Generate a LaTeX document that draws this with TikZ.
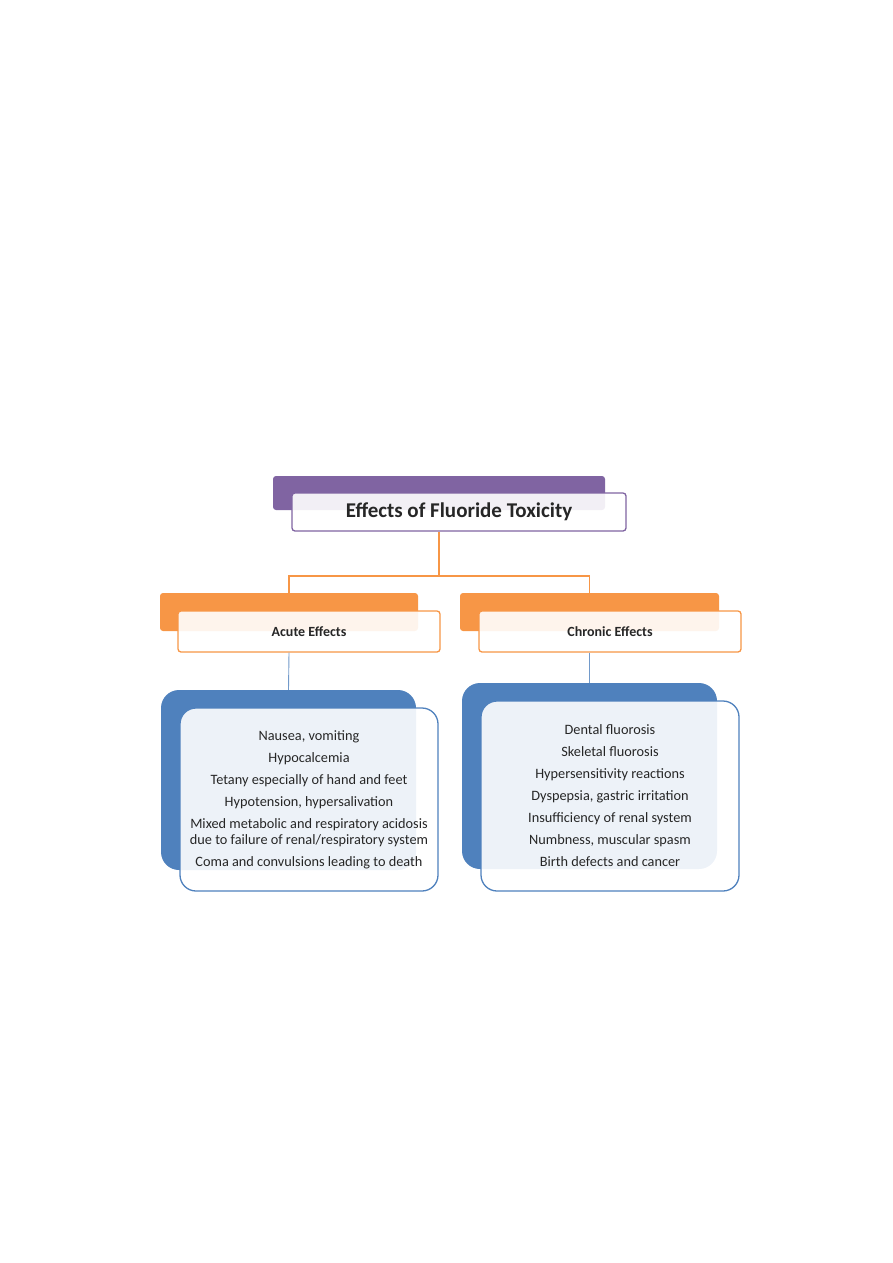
\documentclass[tikz,border=0pt]{standalone}
\usepackage{fontspec}
\setmainfont{Carlito}
\usepackage{xcolor}
\usepackage{tikz}
\usetikzlibrary{positioning,backgrounds}

\definecolor{fpurple}{HTML}{8064A2}
\definecolor{forange}{HTML}{F79646}
\definecolor{fblue}{HTML}{4F81BD}
\definecolor{ftext}{HTML}{262626}

\begin{document}
\begin{tikzpicture}[
  x=1pt, y=-1pt,
  backbox/.style={rounded corners=#1, inner sep=0pt},
  frontbox/.style={draw=#1, line width=1.3pt, fill=white, fill opacity=0.9, text opacity=1, inner sep=0pt, align=center, text=ftext},
  headtext/.style={font=\fontsize{14}{16}\selectfont\bfseries},
  listtext/.style={font=\fontsize{14.3}{16}\selectfont},
  link/.style={draw=#1, line width=1.2pt},
]
\useasboundingbox (0,0) rectangle (893,1263);

%% ---- Title ----
\node[backbox=3pt, fill=fpurple, minimum width=332pt, minimum height=34pt] (titleback) at (439,493) {};
\node[frontbox=fpurple, rounded corners=3pt, minimum width=334pt, minimum height=38pt,
      font=\fontsize{21}{24}\selectfont\bfseries] (title) at (459,512) {Effects of Fluoride Toxicity};

%% ---- Acute / Chronic headers ----
\node[backbox=3pt, fill=forange, minimum width=258pt, minimum height=38pt] (acuteback) at (289,612) {};
\node[frontbox=forange, rounded corners=3pt, minimum width=262pt, minimum height=41pt, headtext] (acute) at (309,631.5) {Acute Effects};

\node[backbox=3pt, fill=forange, minimum width=259pt, minimum height=38pt] (chronicback) at (589.5,612) {};
\node[frontbox=forange, rounded corners=3pt, minimum width=262pt, minimum height=41pt, headtext] (chronic) at (610,631.5) {Chronic Effects};

%% ---- Lists ----
\node[backbox=18pt, fill=fblue, minimum width=255pt, minimum height=180pt] (acutelistback) at (288.5,780) {};
\node[frontbox=fblue, rounded corners=16pt, minimum width=258pt, minimum height=183pt, listtext] (acutelist) at (309,799.5) {%
Nausea, vomiting\\[6pt]
Hypocalcemia\\[6pt]
Tetany especially of hand and feet\\[6pt]
Hypotension, hypersalivation\\[6pt]
Mixed metabolic and respiratory acidosis\\
due to failure of renal/respiratory system\\[6pt]
Coma and convulsions leading to death};

\node[backbox=18pt, fill=fblue, minimum width=255pt, minimum height=186pt] (chroniclistback) at (589.5,776) {};
\node[frontbox=fblue, rounded corners=16pt, minimum width=258pt, minimum height=190pt, listtext] (chroniclist) at (610,796) {%
Dental fluorosis\\[6pt]
Skeletal fluorosis\\[6pt]
Hypersensitivity reactions\\[6pt]
Dyspepsia, gastric irritation\\[6pt]
Insufficiency of renal system\\[6pt]
Numbness, muscular spasm\\[6pt]
Birth defects and cancer};

%% ---- Connectors ----
\coordinate (split) at (439,576);
\draw[link=forange] (titleback.center |- title.south) -- (split) -| (acuteback.north);
\draw[link=forange] (split) -| (chronicback.north);
\draw[link=fblue!80, line width=0.9pt] (acuteback.center |- acute.south) -- (acutelistback.north);
\draw[link=fblue!80, line width=0.9pt] (chronicback.center |- chronic.south) -- (chroniclistback.north);

\end{tikzpicture}
\end{document}
